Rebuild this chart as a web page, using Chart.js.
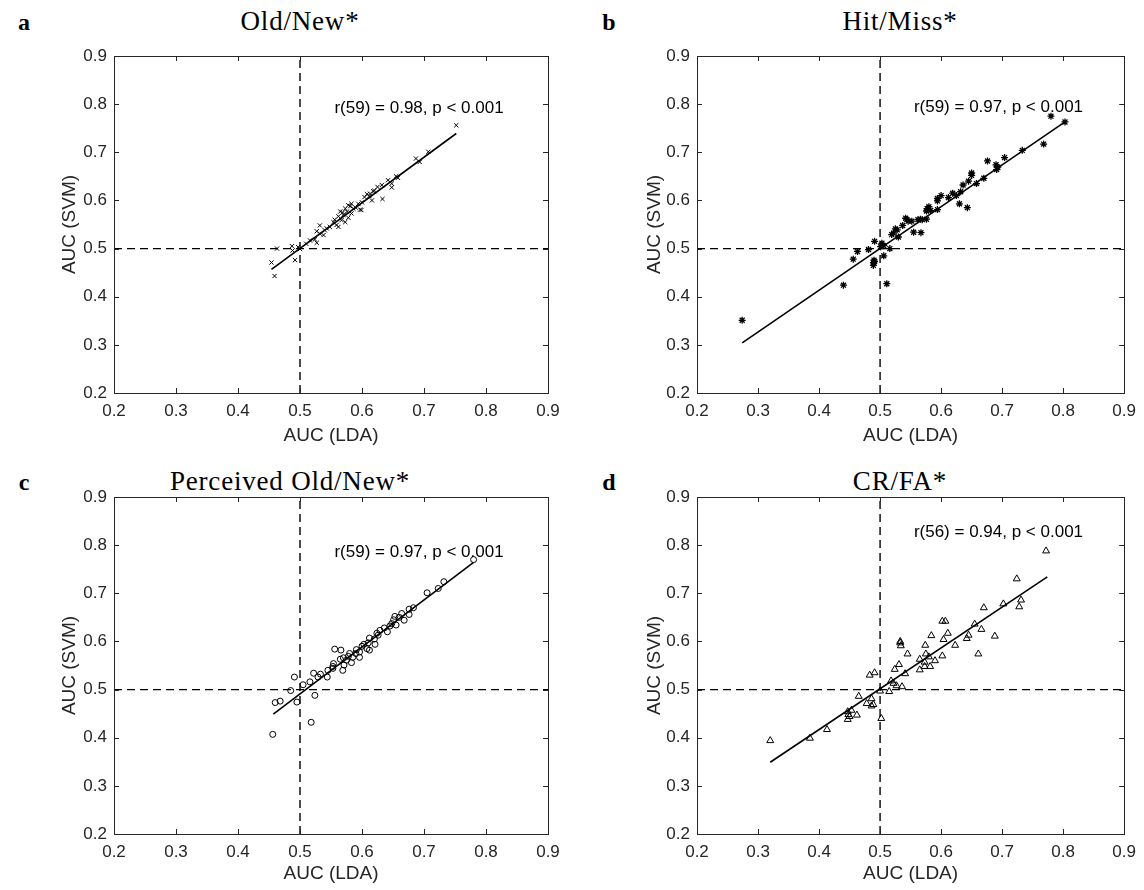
<!DOCTYPE html>
<html>
<head>
<meta charset="utf-8">
<script src="https://cdn.jsdelivr.net/npm/chart.js@4.4.1/dist/chart.umd.min.js"></script>
<style>
  body { margin: 0; background: #fff; }
  #wrap { position: relative; width: 1144px; height: 890px; background: #fff; }
  canvas { position: absolute; }
  .ttl { position: absolute; font-family: "Liberation Serif", "DejaVu Serif", serif; font-size: 27px; letter-spacing: 0.8px; color: #000; white-space: nowrap; transform: translate(-50%, -50%); }
  .lbl { position: absolute; font-family: "Liberation Serif", "DejaVu Serif", serif; font-weight: bold; font-size: 24px; color: #000; transform: translate(-50%, -50%); }
</style>
</head>
<body>
<div id="wrap">
  <div class="lbl" style="left:24px;top:22px">a</div>
  <div class="lbl" style="left:609px;top:22px">b</div>
  <div class="lbl" style="left:24px;top:482px">c</div>
  <div class="lbl" style="left:609px;top:482px">d</div>
  <div class="ttl" style="left:300px;top:21px">Old/New*</div>
  <div class="ttl" style="left:900px;top:21px">Hit/Miss*</div>
  <div class="ttl" style="left:290px;top:481px">Perceived Old/New*</div>
  <div class="ttl" style="left:900px;top:481px">CR/FA*</div>
</div>
<script>
// shared axis ticks
const tickValues = [0.2, 0.3, 0.4, 0.5, 0.6, 0.7, 0.8, 0.9];
const refLineX = [0.5, 0.5];
const refLineY = [0.2, 0.9];

// a: Old/New
const oldNewLda = [0.752, 0.707, 0.687, 0.693, 0.658, 0.642, 0.648, 0.648, 0.632, 0.633, 0.618, 0.608, 0.616, 0.597, 0.599, 0.594, 0.581, 0.573, 0.583, 0.565, 0.570, 0.562, 0.567, 0.573, 0.559, 0.548, 0.562, 0.532, 0.527, 0.538, 0.532, 0.524, 0.527, 0.516, 0.487, 0.463, 0.500, 0.488, 0.492, 0.454, 0.459, 0.613, 0.620, 0.583, 0.576, 0.554, 0.543, 0.586, 0.578, 0.604, 0.655, 0.510, 0.497, 0.540, 0.600, 0.569, 0.625, 0.578, 0.590, 0.556, 0.612];
const oldNewSvm = [0.756, 0.701, 0.687, 0.680, 0.647, 0.642, 0.635, 0.627, 0.632, 0.603, 0.619, 0.613, 0.600, 0.581, 0.580, 0.593, 0.588, 0.583, 0.573, 0.577, 0.570, 0.567, 0.559, 0.555, 0.549, 0.545, 0.545, 0.548, 0.536, 0.528, 0.531, 0.519, 0.512, 0.517, 0.505, 0.500, 0.499, 0.496, 0.476, 0.471, 0.443, 0.614, 0.620, 0.593, 0.577, 0.555, 0.542, 0.583, 0.590, 0.607, 0.650, 0.510, 0.503, 0.538, 0.596, 0.575, 0.628, 0.564, 0.585, 0.560, 0.609];
const oldNewFitX = [0.454, 0.752];
const oldNewFitY = [0.457, 0.739];

// b: Hit/Miss
const hitMissLda = [0.803, 0.780, 0.768, 0.733, 0.704, 0.676, 0.690, 0.691, 0.693, 0.670, 0.650, 0.650, 0.645, 0.658, 0.636, 0.632, 0.619, 0.625, 0.630, 0.643, 0.594, 0.594, 0.594, 0.577, 0.580, 0.583, 0.576, 0.566, 0.576, 0.569, 0.562, 0.552, 0.542, 0.546, 0.544, 0.555, 0.567, 0.525, 0.528, 0.530, 0.519, 0.522, 0.491, 0.481, 0.463, 0.456, 0.490, 0.489, 0.491, 0.489, 0.503, 0.506, 0.516, 0.506, 0.511, 0.440, 0.274, 0.501, 0.537, 0.600, 0.612];
const hitMissSvm = [0.763, 0.775, 0.717, 0.704, 0.689, 0.682, 0.674, 0.664, 0.669, 0.646, 0.657, 0.652, 0.640, 0.635, 0.632, 0.618, 0.615, 0.610, 0.593, 0.585, 0.604, 0.599, 0.581, 0.583, 0.587, 0.579, 0.578, 0.561, 0.561, 0.560, 0.560, 0.557, 0.563, 0.557, 0.560, 0.534, 0.533, 0.541, 0.539, 0.524, 0.529, 0.532, 0.515, 0.498, 0.494, 0.478, 0.476, 0.471, 0.473, 0.465, 0.511, 0.506, 0.500, 0.485, 0.427, 0.424, 0.351, 0.504, 0.548, 0.610, 0.606];
const hitMissFitX = [0.274, 0.803];
const hitMissFitY = [0.304, 0.763];

// c: Perceived Old/New
const percLda = [0.780, 0.732, 0.723, 0.705, 0.683, 0.676, 0.676, 0.668, 0.664, 0.653, 0.651, 0.655, 0.648, 0.641, 0.629, 0.626, 0.624, 0.621, 0.612, 0.610, 0.612, 0.603, 0.596, 0.596, 0.591, 0.585, 0.580, 0.583, 0.575, 0.571, 0.569, 0.565, 0.566, 0.556, 0.554, 0.553, 0.544, 0.533, 0.522, 0.529, 0.516, 0.524, 0.491, 0.485, 0.495, 0.468, 0.460, 0.518, 0.456, 0.608, 0.578, 0.553, 0.636, 0.660, 0.600, 0.545, 0.620, 0.590, 0.570, 0.645, 0.505];
const percSvm = [0.770, 0.724, 0.710, 0.701, 0.670, 0.667, 0.656, 0.644, 0.658, 0.652, 0.645, 0.634, 0.637, 0.620, 0.623, 0.613, 0.617, 0.594, 0.607, 0.597, 0.582, 0.594, 0.578, 0.567, 0.583, 0.567, 0.575, 0.556, 0.561, 0.551, 0.540, 0.563, 0.582, 0.584, 0.554, 0.544, 0.526, 0.532, 0.534, 0.526, 0.516, 0.488, 0.526, 0.498, 0.474, 0.476, 0.473, 0.432, 0.407, 0.585, 0.569, 0.548, 0.628, 0.650, 0.590, 0.540, 0.605, 0.575, 0.566, 0.632, 0.510];
const percFitX = [0.457, 0.780];
const percFitY = [0.449, 0.764];

// d: CR/FA
const crFaLda = [0.772, 0.724, 0.731, 0.728, 0.702, 0.670, 0.655, 0.666, 0.688, 0.661, 0.645, 0.642, 0.602, 0.607, 0.611, 0.604, 0.584, 0.574, 0.623, 0.602, 0.575, 0.580, 0.565, 0.573, 0.582, 0.565, 0.573, 0.545, 0.533, 0.534, 0.531, 0.524, 0.541, 0.518, 0.522, 0.527, 0.536, 0.515, 0.483, 0.491, 0.465, 0.486, 0.478, 0.486, 0.489, 0.502, 0.447, 0.450, 0.447, 0.462, 0.453, 0.413, 0.385, 0.320, 0.500, 0.533, 0.448, 0.590];
const crFaSvm = [0.788, 0.730, 0.686, 0.672, 0.678, 0.670, 0.636, 0.625, 0.611, 0.574, 0.613, 0.606, 0.642, 0.642, 0.617, 0.604, 0.612, 0.592, 0.592, 0.570, 0.574, 0.568, 0.563, 0.557, 0.548, 0.541, 0.548, 0.574, 0.597, 0.591, 0.552, 0.542, 0.533, 0.518, 0.513, 0.508, 0.506, 0.496, 0.530, 0.535, 0.486, 0.481, 0.471, 0.466, 0.469, 0.440, 0.454, 0.444, 0.438, 0.447, 0.457, 0.417, 0.399, 0.394, 0.497, 0.600, 0.448, 0.560];
const crFaFitX = [0.320, 0.774];
const crFaFitY = [0.349, 0.734];

const panels = [
  { xs: oldNewLda, ys: oldNewSvm, fx: oldNewFitX, fy: oldNewFitY, text: 'r(59) = 0.98, p < 0.001', marker: 'crossRot',
    left: 0, top: 0, plot: { l: 114, r: 548, t: 56, b: 393 }, note: [0.692, 0.792], xt: 0, yt: 60 },
  { xs: hitMissLda, ys: hitMissSvm, fx: hitMissFitX, fy: hitMissFitY, text: 'r(59) = 0.97, p < 0.001', marker: 'star',
    left: 572, top: 0, plot: { l: 125, r: 558, t: 56, b: 393 }, note: [0.694, 0.794], xt: 0, yt: 73 },
  { xs: percLda, ys: percSvm, fx: percFitX, fy: percFitY, text: 'r(59) = 0.97, p < 0.001', marker: 'circle',
    left: 0, top: 445, plot: { l: 114, r: 548, t: 52, b: 389 }, note: [0.692, 0.786], xt: 7, yt: 60 },
  { xs: crFaLda, ys: crFaSvm, fx: crFaFitX, fy: crFaFitY, text: 'r(56) = 0.94, p < 0.001', marker: 'triangle',
    left: 572, top: 445, plot: { l: 125, r: 558, t: 52, b: 389 }, note: [0.694, 0.826], xt: 7, yt: 73 }
];

const W = 572, H = 445;
const textColor = '#262626';
const sans = '"Liberation Sans", Arial, Helvetica, sans-serif';

function toPoints(xs, ys) {
  return xs.map((v, i) => ({ x: v, y: ys[i] }));
}

// frame with inward ticks + correlation note
const boxPlugin = {
  id: 'box',
  afterDraw(chart) {
    const { ctx, chartArea: a, scales } = chart;
    const x = scales.x, y = scales.y;
    ctx.save();
    ctx.strokeStyle = textColor;
    ctx.lineWidth = 1;
    ctx.strokeRect(Math.round(a.left) + 0.5, Math.round(a.top) + 0.5, Math.round(a.right - a.left), Math.round(a.bottom - a.top));
    ctx.beginPath();
    tickValues.forEach(v => {
      const px = Math.round(x.getPixelForValue(v)) + 0.5;
      ctx.moveTo(px, a.bottom); ctx.lineTo(px, a.bottom - 5);
      ctx.moveTo(px, a.top); ctx.lineTo(px, a.top + 5);
      const py = Math.round(y.getPixelForValue(v)) + 0.5;
      ctx.moveTo(a.left, py); ctx.lineTo(a.left + 5, py);
      ctx.moveTo(a.right, py); ctx.lineTo(a.right - 5, py);
    });
    ctx.stroke();
    const p = chart.options.plugins.box;
    ctx.fillStyle = '#000';
    ctx.font = '17px ' + sans;
    ctx.textAlign = 'center';
    ctx.textBaseline = 'middle';
    ctx.fillText(p.text, x.getPixelForValue(p.note[0]), y.getPixelForValue(p.note[1]));
    ctx.restore();
  }
};

const wrap = document.getElementById('wrap');

panels.forEach(p => {
  const cv = document.createElement('canvas');
  cv.width = W; cv.height = H;
  cv.style.left = p.left + 'px';
  cv.style.top = p.top + 'px';
  cv.style.width = W + 'px';
  cv.style.height = H + 'px';
  wrap.appendChild(cv);

  const axisCommon = {
    type: 'linear', min: 0.2, max: 0.9,
    afterBuildTicks: s => { s.ticks = tickValues.map(v => ({ value: v })); },
    grid: { display: false, drawTicks: false },
    border: { display: false },
  };

  let radius = 3, bw = 1;
  if (p.marker === 'triangle') radius = 4;
  if (p.marker === 'star') { radius = 3.5; bw = 1.3; }

  new Chart(cv.getContext('2d'), {
    type: 'scatter',
    data: {
      datasets: [
        { data: toPoints(p.xs, p.ys), pointStyle: p.marker, pointRadius: radius,
          borderColor: '#000', backgroundColor: 'rgba(0,0,0,0)', borderWidth: bw, order: 0 },
        { data: toPoints(p.fx, p.fy), showLine: true, pointRadius: 0, borderColor: '#000', borderWidth: 1.6, order: 1 },
        { data: toPoints(refLineX, refLineY), showLine: true, pointRadius: 0, borderColor: '#000', borderWidth: 1.4, borderDash: [8, 5], order: 2 },
        { data: toPoints(refLineY, refLineX), showLine: true, pointRadius: 0, borderColor: '#000', borderWidth: 1.2, borderDash: [8, 5], order: 2 }
      ]
    },
    options: {
      responsive: false,
      animation: false,
      events: [],
      layout: { padding: { left: 0, top: p.plot.t, right: W - p.plot.r, bottom: 0 } },
      plugins: {
        legend: { display: false },
        tooltip: { enabled: false },
        box: { text: p.text, note: p.note }
      },
      scales: {
        x: Object.assign({}, axisCommon, {
          position: 'bottom',
          afterFit: s => { s.height = H - p.plot.b; },
          ticks: { padding: 8, color: textColor, font: { family: sans, size: 17 }, callback: v => v.toFixed(1), maxRotation: 0, autoSkip: false },
          title: { display: true, text: 'AUC (LDA)', color: textColor, font: { family: sans, size: 19, lineHeight: 1 }, padding: { top: 0, bottom: p.xt } }
        }),
        y: Object.assign({}, axisCommon, {
          position: 'left',
          afterFit: s => { s.width = p.plot.l; },
          ticks: { padding: 7, color: textColor, font: { family: sans, size: 17 }, callback: v => v.toFixed(1), autoSkip: false },
          title: { display: true, text: 'AUC (SVM)', color: textColor, font: { family: sans, size: 19, lineHeight: 1 }, padding: { top: p.yt, bottom: 0 } }
        })
      }
    },
    plugins: [boxPlugin]
  });
});
</script>
</body>
</html>
